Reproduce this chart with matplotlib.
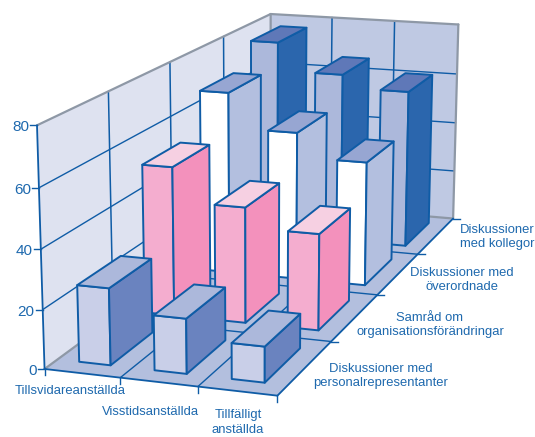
import numpy as np
import matplotlib
matplotlib.use("Agg")
import matplotlib.pyplot as plt
from matplotlib.patches import Polygon

plt.rcParams['font.family'] = ['Liberation Sans', 'DejaVu Sans']

# Employment types along the front edge, discussion forums along the depth axis
employment = ["Tillsvidareanställda", "Visstidsanställda", "Tillfälligt\nanställda"]
forums = ["Diskussioner med\npersonalrepresentanter", "Samråd om\norganisationsförändringar",
          "Diskussioner med\növerordnade", "Diskussioner\nmed kollegor"]
yticks = [0, 20, 40, 60, 80]

personal = [26, 18.5, 12]
samrad = [53, 41, 34]
overordnade = [68, 55, 46]
kollegor = [77, 66, 61]
rows = [personal, samrad, overordnade, kollegor]

# front, side and top fill of each row of bars
row_faces = [("#C9CFE8", "#6A83BF", "#ACB8DB"),
             ("#F4ADCF", "#F391BC", "#F6D0E2"),
             ("#FFFFFF", "#B3BFDF", "#97A6D2"),
             ("#ACB8DB", "#2B66AD", "#5F78B8")]
BLUE = "#0F5CA6"
GREY = "#8E98A6"
TEXT = "#1E69AE"

# Perspective camera fitted to the corners of the box (box units -> figure pixels)
box = np.array([[0, 0, 0], [1, 0, 0], [1, 1, 0], [0, 1, 0], [0, 0, 80], [1, 1, 80], [0, 1, 80]], float)
screen = np.array([[44, 367], [278, 397], [453, 217], [270.5, 205], [37, 126], [458, 25], [271, 13]], float)
rowsA = []
for (X, Y, Z), (u, v) in zip(box, screen):
    rowsA.append([X, Y, Z, 1, 0, 0, 0, 0, -u*X, -u*Y, -u*Z, -u])
    rowsA.append([0, 0, 0, 0, X, Y, Z, 1, -v*X, -v*Y, -v*Z, -v])
P = np.linalg.svd(np.array(rowsA))[2][-1].reshape(3, 4)


def proj(x, y, z=0):
    h = P @ np.array([x, y, z, 1.0])
    return h[0] / h[2], h[1] / h[2]


fig = plt.figure(figsize=(5.35, 4.37), dpi=100)
ax = fig.add_axes([0, 0, 1, 1])
ax.set_xlim(0, 535)
ax.set_ylim(437, 0)
ax.axis("off")


def face(pts, fc, ec=BLUE, lw=1.4, z=1):
    ax.add_patch(Polygon([proj(*p) for p in pts], closed=True, fc=fc, ec=ec, lw=lw,
                         joinstyle="round", zorder=z))


def seg(a, b, color=BLUE, lw=1.0):
    pa, pb = proj(*a), proj(*b)
    ax.plot([pa[0], pb[0]], [pa[1], pb[1]], color=color, lw=lw, solid_capstyle="round", zorder=2)


# walls and floor
face([(0, 0, 0), (0, 1, 0), (0, 1, 80), (0, 0, 80)], "#DEE2F0", "none")
face([(0, 1, 0), (1, 1, 0), (1, 1, 80), (0, 1, 80)], "#BFC9E3", "none")
face([(0, 0, 0), (1, 0, 0), (1, 1, 0), (0, 1, 0)], "#B3BFDE", "none")

ncols, nrows = len(employment), len(forums)
for t in yticks[1:-1]:
    seg((0, 0, t), (0, 1, t))
    seg((0, 1, t), (1, 1, t))
for i in range(1, nrows):
    seg((0, i / nrows, 0), (0, i / nrows, 80), lw=1.1)
    seg((0, i / nrows, 0), (1, i / nrows, 0))
for j in range(1, ncols):
    seg((j / ncols, 1, 0), (j / ncols, 1, 80), lw=1.1)
    seg((j / ncols, 0, 0), (j / ncols, 1, 0))

seg((0, 0, 80), (0, 1, 80), GREY, 1.6)
seg((0, 1, 80), (1, 1, 80), GREY, 1.6)
seg((1, 1, 80), (1, 1, 0), GREY, 1.6)
seg((0, 1, 80), (0, 1, 0), GREY, 1.6)
seg((0, 0, 0), (0, 1, 0), GREY, 1.6)
seg((0, 1, 0), (1, 1, 0), GREY, 1.6)
seg((0, 0, 0), (0, 0, 80), BLUE, 1.3)
seg((0, 0, 0), (1, 0, 0), BLUE, 1.3)
seg((1, 0, 0), (1, 1, 0), BLUE, 1.3)

# axis ticks and labels
for t in yticks:
    x0, y0 = proj(0, 0, t)
    ax.plot([x0 - 7, x0], [y0, y0], color=BLUE, lw=1.0)
    ax.text(x0 - 8, y0 + 2, str(t), ha="right", va="center", color=TEXT, fontsize=11)
for j in range(ncols + 1):
    x0, y0 = proj(j / ncols, 0, 0)
    ax.plot([x0, x0], [y0, y0 + 6], color=BLUE, lw=1.0)
for i in range(1, nrows + 1):
    x0, y0 = proj(1, i / nrows, 0)
    ax.plot([x0, x0 + 7], [y0, y0], color=BLUE, lw=1.0)

for name, (cx, cy) in zip(employment, [(70, 391), (150, 412), (238, 422.5)]):
    ax.text(cx, cy, name, ha="center", va="center", color=TEXT, fontsize=9.4, linespacing=1.25)
for name, (cx, cy) in zip(forums, [(381, 376), (430, 325), (462, 280), (497, 237)]):
    ax.text(cx, cy, name, ha="center", va="center", color=TEXT, fontsize=9.4, linespacing=1.25)

# bars, painted from the back row forward
GAP_X, GAP_Y = 0.29, 0.18
for i in reversed(range(nrows)):
    front, side, top = row_faces[i]
    for j in range(ncols):
        h = rows[i][j]
        x0, x1 = (j + GAP_X) / ncols, (j + 1 - GAP_X) / ncols
        y0, y1 = (i + GAP_Y) / nrows, (i + 1 - GAP_Y) / nrows
        order = 3 + (nrows - i) * 10 + j
        face([(x0, y0, 0), (x1, y0, 0), (x1, y0, h), (x0, y0, h)], front, z=order)
        face([(x1, y0, 0), (x1, y1, 0), (x1, y1, h), (x1, y0, h)], side, z=order)
        face([(x0, y0, h), (x1, y0, h), (x1, y1, h), (x0, y1, h)], top, z=order)

fig.savefig("out.png", dpi=100)
